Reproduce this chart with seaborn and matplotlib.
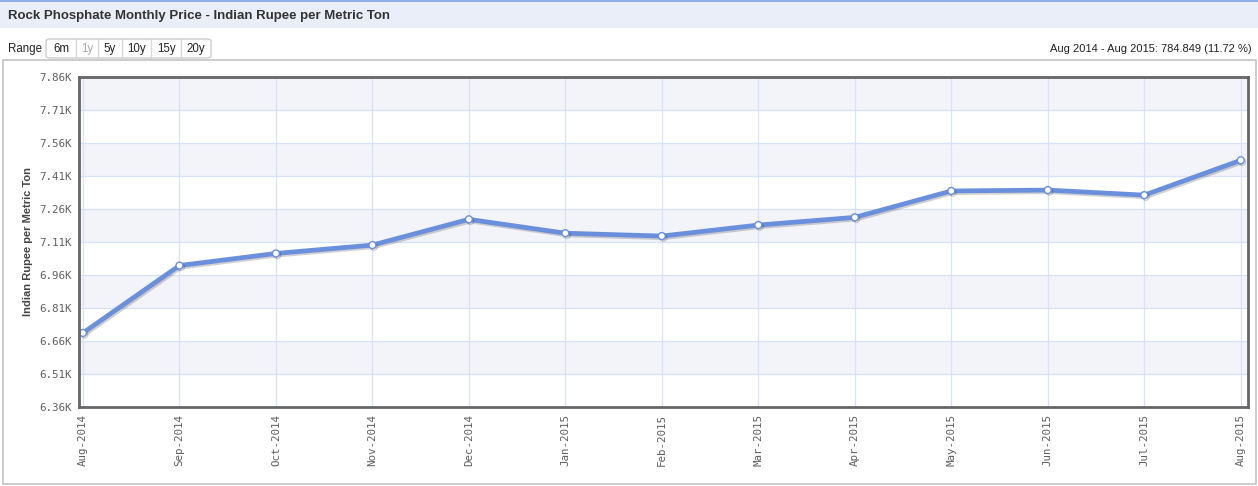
import matplotlib
matplotlib.use("Agg")
import matplotlib.pyplot as plt
import matplotlib.patheffects as pe
from matplotlib.patches import Rectangle, FancyBboxPatch
import seaborn as sns
import pandas as pd

# ---- data ----
months = ["Aug-2014", "Sep-2014", "Oct-2014", "Nov-2014", "Dec-2014", "Jan-2015",
          "Feb-2015", "Mar-2015", "Apr-2015", "May-2015", "Jun-2015", "Jul-2015", "Aug-2015"]
prices = [6696.6, 7003, 7058, 7096, 7213, 7150, 7137, 7187, 7222, 7342, 7346, 7323, 7481.5]
y_ticks = [6360, 6510, 6660, 6810, 6960, 7110, 7260, 7410, 7560, 7710, 7860]
y_tick_labels = ["6.36K", "6.51K", "6.66K", "6.81K", "6.96K", "7.11K", "7.26K", "7.41K",
                 "7.56K", "7.71K", "7.86K"]
title = "Rock Phosphate Monthly Price - Indian Rupee per Metric Ton"
ylabel = "Indian Rupee per Metric Ton"
range_buttons = ["6m", "1y", "5y", "10y", "15y", "20y"]
summary = "Aug 2014 - Aug 2015: 784.849 (11.72 %)"

W, H = 1258, 486
sns.set_theme(style="white")
plt.rcParams["font.family"] = ["Liberation Sans", "DejaVu Sans"]

fig = plt.figure(figsize=(W / 100, H / 100), dpi=100)
fig.patch.set_facecolor("white")

def fx(px):
    return px / W

def fy(py):
    return 1 - py / H

# title bar
fig.patches.append(Rectangle((0, fy(28)), 1, fy(2) - fy(28), transform=fig.transFigure,
                             facecolor="#e9eef8", edgecolor="none", zorder=0))
fig.patches.append(Rectangle((0, fy(2)), 1, fy(0) - fy(2), transform=fig.transFigure,
                             facecolor="#8fb0e6", edgecolor="none", zorder=0))
fig.text(fx(8), fy(16), title, fontsize=9.5, fontweight="bold", color="#333333",
         va="center", ha="left")

# outer frame
fig.patches.append(Rectangle((fx(3), fy(484)), fx(1256) - fx(3), fy(60) - fy(484),
                             transform=fig.transFigure, facecolor="none",
                             edgecolor="#c4c4c4", lw=1.2, zorder=0))

# range selector
fig.text(fx(8), fy(49), "Range", fontsize=8.3, color="#222222", va="center", ha="left")
edges = [46, 76, 98, 122, 151, 181, 211]
fig.patches.append(FancyBboxPatch((fx(46), fy(58)), fx(211) - fx(46), fy(39) - fy(58),
                                  boxstyle="round,pad=0,rounding_size=0.004",
                                  transform=fig.transFigure, facecolor="white",
                                  edgecolor="#cccccc", lw=1))
for i, lab in enumerate(range_buttons):
    if i > 0:
        fig.lines.append(plt.Line2D([fx(edges[i]), fx(edges[i])], [fy(58), fy(39)],
                                    transform=fig.transFigure, color="#d8d8d8", lw=1))
    fig.text(fx((edges[i] + edges[i + 1]) / 2), fy(49), lab, fontsize=8.3,
             color="#aaaaaa" if lab == "1y" else "#222222", va="center", ha="center")

fig.text(fx(1252), fy(49), summary, fontsize=8, color="#222222", va="center", ha="right")

# plot axes
left, right, top, bottom = 79, 1248, 77, 407
ax = fig.add_axes([fx(left), fy(bottom), fx(right) - fx(left), fy(top) - fy(bottom)])
ax.set_facecolor("white")

# alternating bands
for i in range(len(y_ticks) - 1):
    if i % 2 == 1:
        ax.axhspan(y_ticks[i], y_ticks[i + 1], color="#f3f4fa", zorder=0, lw=0)
for t in y_ticks:
    ax.axhline(t, color="#d6e2f7", lw=0.9, zorder=1)
for i in range(len(months)):
    ax.axvline(i, color="#d6e2f7", lw=0.9, zorder=1)

df = pd.DataFrame({"x": range(len(months)), "price": prices})
sns.lineplot(data=df, x="x", y="price", ax=ax, color="#6a8fdc", lw=3.4, zorder=3,
             marker="o", markersize=5, markerfacecolor="white",
             markeredgecolor="#6a8fdc", markeredgewidth=1.0,
             path_effects=[pe.SimpleLineShadow(offset=(1, -1.2), shadow_color="black", alpha=0.18),
                           pe.Normal()])

ax.set_xlim(-0.041, 12.075)
ax.set_ylim(y_ticks[0], y_ticks[-1])
ax.set_yticks(y_ticks)
ax.set_yticklabels(y_tick_labels, fontfamily="DejaVu Sans Mono", fontsize=7.8, color="#606060")
ax.set_xticks(range(len(months)))
ax.set_xticklabels(months, rotation=90, fontfamily="DejaVu Sans Mono", fontsize=7.8,
                   color="#606060", va="top", ha="center")
ax.tick_params(axis="both", length=0, pad=5)
ax.set_xlabel("")
ax.set_ylabel(ylabel, fontsize=8, fontweight="bold", color="#444444", labelpad=5)
for s in ax.spines.values():
    s.set_visible(True)
    s.set_color("#666666")
    s.set_linewidth(2)
    s.set_zorder(5)

fig.savefig("out.png", dpi=100)
